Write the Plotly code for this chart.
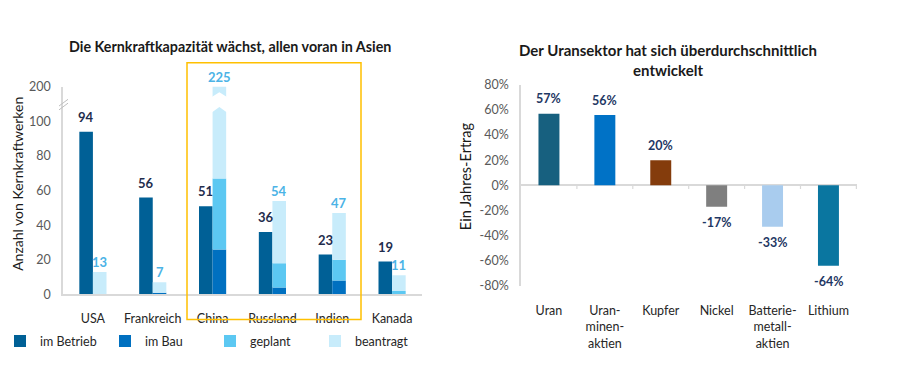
import numpy as np
import plotly.graph_objects as go

# ---------------- data ----------------
countries = ["USA", "Frankreich", "China", "Russland", "Indien", "Kanada"]
im_betrieb = [94, 56, 51, 36, 23, 19]
im_bau = [0, 1, 26, 4, 8, 0]
geplant = [0, 0, 41, 14, 12, 2]
beantragt = [13, 6, 158, 36, 27, 9]
left_yticks = [0, 20, 40, 60, 80, 100, 120]
left_yticktext = ["0", "20", "40", "60", "80", "100", "200"]

assets = ["Uran", "Uran-<br>minen-<br>aktien", "Kupfer", "Nickel",
          "Batterie-<br>metall-<br>aktien", "Lithium"]
returns = [57, 56, 20, -17, -33, -64]
right_yticks = [-80, -60, -40, -20, 0, 20, 40, 60, 80]
right_yticktext = [f"{v}%" for v in right_yticks]

# ---------------- style ----------------
W, H = 898, 385
FONT = "Lato"
C_BETRIEB, C_BAU, C_GEPLANT, C_BEANTRAGT = "#006096", "#0070C0", "#5CC8F2", "#C8ECFB"
asset_colors = ["#17607F", "#0072C6", "#843C0C", "#7F7F7F", "#A9CCEE", "#0A76A0"]
DARK_LBL, LIGHT_LBL = "#1F2D4D", "#4BB3E6"
AXIS_GREY = "#D9D9D9"
TICK_GREY = "#595959"


def px_x(p):
    return p / W


def px_y(p):
    return (H - p) / H


fig = go.Figure()
xi = np.arange(len(countries))
bw = 0.227
ytop = left_yticks[-1]

fig.add_trace(go.Bar(x=xi, y=im_betrieb, width=bw, offset=-bw, name="im Betrieb",
                     marker=dict(color=C_BETRIEB, line=dict(width=0)),
                     xaxis="x", yaxis="y"))
base = np.zeros(len(countries))
for name, vals, col in [("im Bau", im_bau, C_BAU), ("geplant", geplant, C_GEPLANT),
                        ("beantragt", beantragt, C_BEANTRAGT)]:
    fig.add_trace(go.Bar(x=xi, y=vals, base=base.copy(), width=bw, offset=0, name=name,
                         marker=dict(color=col, line=dict(width=0)),
                         xaxis="x", yaxis="y"))
    base = base + np.array(vals)
totals = base

fig.add_trace(go.Bar(x=assets, y=returns, width=0.375, showlegend=False,
                     marker=dict(color=asset_colors, line=dict(width=0)),
                     xaxis="x2", yaxis="y2"))

annotations = []
for i in range(len(countries)):
    annotations.append(dict(x=i - bw / 2, y=im_betrieb[i], xref="x", yref="y",
                            text=str(im_betrieb[i]), showarrow=False, yshift=15,
                            xanchor="center", yanchor="middle",
                            font=dict(family=FONT, size=13, color=DARK_LBL, weight="bold")))
    annotations.append(dict(x=i + bw / 2, y=min(totals[i], ytop), xref="x", yref="y",
                            text=str(int(totals[i])), showarrow=False, yshift=10,
                            xanchor="center", yanchor="middle",
                            font=dict(family=FONT, size=13, color=LIGHT_LBL, weight="bold")))
for i, v in enumerate(returns):
    annotations.append(dict(x=assets[i], y=v, xref="x2", yref="y2",
                            text=f"{v}%", showarrow=False, yshift=15 if v >= 0 else -16,
                            xanchor="center", yanchor="middle",
                            font=dict(family=FONT, size=12.5, color="#1F3864", weight="bold")))

annotations += [
    dict(x=px_x(230), y=px_y(40), xref="paper", yref="paper", showarrow=False,
         xanchor="center", yanchor="middle",
         text="<b>Die Kernkraftkapazität wächst, allen voran in Asien</b>",
         font=dict(family=FONT, size=14.3, color="#1A1A1A")),
    dict(x=px_x(668), y=px_y(54.5), xref="paper", yref="paper", showarrow=False,
         xanchor="center", yanchor="middle",
         text="<b>Der Uransektor hat sich überdurchschnittlich<br>entwickelt</b>",
         font=dict(family=FONT, size=15, color="#1A1A1A")),
    dict(x=px_x(18), y=px_y(183), xref="paper", yref="paper", showarrow=False,
         xanchor="center", yanchor="middle",
         text="Anzahl von Kernkraftwerken", textangle=-90,
         font=dict(family=FONT, size=14, color="#1A1A1A")),
    dict(x=px_x(465), y=px_y(175), xref="paper", yref="paper", showarrow=False,
         xanchor="center", yanchor="middle",
         text="Ein Jahres-Ertrag", textangle=-90,
         font=dict(family=FONT, size=14.5, color="#1A1A1A")),
]

shapes = []
# yellow highlight box around Asian countries
shapes.append(dict(type="rect", xref="paper", yref="paper",
                   x0=px_x(187), x1=px_x(361), y0=px_y(324), y1=px_y(57),
                   line=dict(color="#FFC000", width=1.5), fillcolor="rgba(0,0,0,0)"))
# axis break marks
for dy in (0, 4):
    shapes.append(dict(type="line", xref="paper", yref="paper",
                       x0=px_x(59), x1=px_x(68), y0=px_y(106 - dy), y1=px_y(99 - dy),
                       line=dict(color="#BFBFBF", width=1)))
# white chevron in China's bar (truncated)
ci = countries.index("China")
xl, xc, xr = ci - 0.02, ci + bw / 2, ci + bw + 0.02
shapes.append(dict(type="path", xref="x", yref="y",
                   path=f"M{xl},113.9 L{xc},116.8 L{xr},113.9 L{xr},105 L{xc},108.3 L{xl},105 Z",
                   fillcolor="white", line=dict(width=0)))
# tick marks on zero line of right chart
for i in range(len(assets)):
    shapes.append(dict(type="line", xref="x2", yref="y2", x0=i + 0.5, x1=i + 0.5,
                       y0=0, y1=-3, line=dict(color=AXIS_GREY, width=1.2)))

fig.update_layout(
    width=W, height=H, margin=dict(l=0, r=0, t=0, b=0),
    paper_bgcolor="white", plot_bgcolor="white",
    barmode="overlay", font=dict(family=FONT, size=12, color="#262626"),
    showlegend=True,
    legend=dict(orientation="h", x=0, xanchor="left", y=px_y(347), yanchor="middle",
                entrywidth=60, entrywidthmode="pixels", traceorder="normal",
                font=dict(family=FONT, size=12.5, color="#262626"), bgcolor="rgba(0,0,0,0)"),
    xaxis=dict(domain=[px_x(63), px_x(422)], range=[-0.5, len(countries) - 0.5],
               tickvals=xi, ticktext=countries, showline=True, linecolor=AXIS_GREY,
               linewidth=1.5, ticks="", showgrid=False, zeroline=False,
               ticklabelstandoff=12, tickfont=dict(size=12.5, color="#262626"), anchor="y"),
    yaxis=dict(domain=[px_y(298), px_y(82)], range=[0, ytop], tickvals=left_yticks,
               ticktext=left_yticktext, showline=True, linecolor=AXIS_GREY, linewidth=1.5,
               showgrid=False, zeroline=False, ticks="", ticklabelstandoff=8,
               tickfont=dict(size=12.5, color=TICK_GREY), anchor="x"),
    xaxis2=dict(domain=[px_x(521), px_x(857)], showline=False, ticks="", showgrid=False,
                zeroline=False, ticklabelstandoff=16, tickfont=dict(size=12.5, color="#262626"),
                anchor="y2"),
    yaxis2=dict(domain=[px_y(289), px_y(80)], range=[-80, 80], tickvals=right_yticks,
                ticktext=right_yticktext, showline=True, linecolor=AXIS_GREY, linewidth=1.5,
                showgrid=False, zeroline=True, zerolinecolor=AXIS_GREY, zerolinewidth=1.5,
                ticks="", ticklabelstandoff=8, tickfont=dict(size=12.5, color=TICK_GREY),
                anchor="x2"),
    annotations=annotations, shapes=shapes,
)

fig.write_html("out.html", config={"displayModeBar": False},
               post_script="document.body.style.margin='0';")
